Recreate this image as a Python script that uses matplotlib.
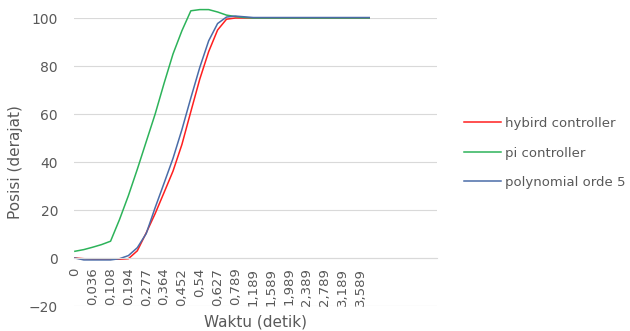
import matplotlib.pyplot as plt

# Time samples (s), shown as category labels on the x axis
waktu = [0, 0.013, 0.036, 0.072, 0.108, 0.151, 0.194, 0.236, 0.277, 0.321,
         0.364, 0.408, 0.452, 0.496, 0.54, 0.583, 0.627, 0.689, 0.789, 0.989,
         1.189, 1.389, 1.589, 1.789, 1.989, 2.189, 2.389, 2.589, 2.789, 2.989,
         3.189, 3.389, 3.589, 3.789]

# Position response (degrees) for each controller
hybird = [0, -0.3, -0.5, -0.5, -0.5, -0.5, -0.3, 3.0, 10.5, 18.5,
          27.3, 36.2, 47.3, 61.0, 74.5, 86.0, 95.0, 99.5, 100, 100,
          100, 100, 100, 100, 100, 100, 100, 100, 100, 100,
          100, 100, 100, 100]
pi_ctrl = [2.8, 3.5, 4.5, 5.6, 7.0, 16.0, 26.0, 37.0, 48.5, 60.0,
           72.8, 85.0, 94.7, 103.0, 103.5, 103.5, 102.5, 101.2, 100.6, 100.2,
           100, 100, 100, 100, 100, 100, 100, 100, 100, 100,
           100, 100, 100, 100]
poly5 = [0, -0.8, -0.8, -0.8, -0.8, -0.3, 1.0, 4.3, 10.2, 21.0,
         31.2, 41.5, 53.5, 66.7, 79.4, 90.5, 97.7, 100.4, 100.8, 100.5,
         100.2, 100.2, 100.2, 100.2, 100.2, 100.2, 100.2, 100.2, 100.2, 100.2,
         100.2, 100.2, 100.2, 100.2]

labels = [f"{t:g}".replace('.', ',') for t in waktu]
idx = list(range(len(waktu)))

plt.rcParams['font.family'] = ['DejaVu Sans']
grey = '#595959'

fig = plt.figure(figsize=(6.3, 3.31), dpi=100)
ax = fig.add_axes([74 / 630, 1 - 306 / 331, 363 / 630, 288 / 331])

ax.plot(idx, hybird, color='#FF1F1F', linewidth=1.1, label='hybird controller', clip_on=False)
ax.plot(idx, pi_ctrl, color='#2DB35A', linewidth=1.1, label='pi controller', clip_on=False)
ax.plot(idx, poly5, color='#4A6CA8', linewidth=1.1, label='polynomial orde 5', clip_on=False)

# x axis sits on the zero line
ax.spines['bottom'].set_position(('data', 0))
ax.spines['bottom'].set_color('#D9D9D9')
for s in ['top', 'right', 'left']:
    ax.spines[s].set_visible(False)

ax.set_xlim(-0.1, 40.6)
ax.set_ylim(-20, 100)
ax.set_yticks(range(-20, 101, 20))
ax.yaxis.grid(True, color='#D9D9D9', linewidth=0.8)
ax.set_axisbelow(True)

# category labels on every second sample, hanging from the zero line
ax.set_xticks(idx[::2])
ax.set_xticklabels(labels[::2])
ax.tick_params(axis='x', length=0, pad=7, labelsize=9.5, labelcolor=grey,
               labelrotation=90)
ax.tick_params(axis='y', length=0, pad=11.5, labelsize=10, labelcolor=grey)

ax.set_ylabel('Posisi (derajat)', fontsize=11, color=grey, labelpad=4)
fig.text(255 / 630, 1 - 322 / 331, 'Waktu (detik)', fontsize=11, color=grey,
         ha='center', va='center')

fig.legend(loc='center left', bbox_to_anchor=(464 / 630, 1 - 153 / 331),
           frameon=False, fontsize=9.5, labelcolor=grey, handlelength=2.8,
           handletextpad=0.3, labelspacing=1.25, borderpad=0, borderaxespad=0)

fig.savefig('out.png', dpi=100)
